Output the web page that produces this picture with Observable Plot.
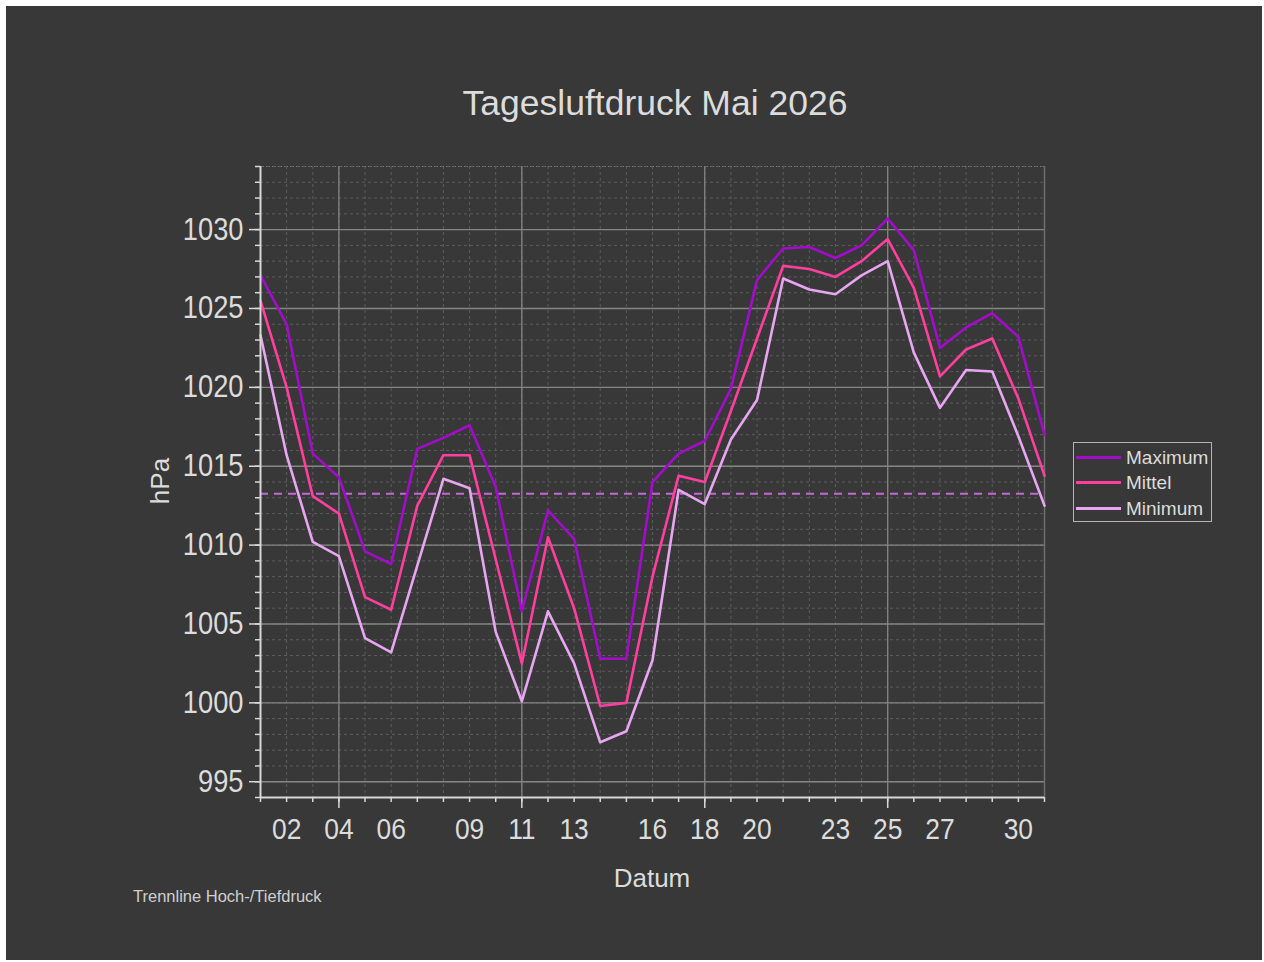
<!DOCTYPE html>
<html>
<head>
<meta charset="utf-8">
<script src="https://cdn.jsdelivr.net/npm/d3@7"></script>
<script src="https://cdn.jsdelivr.net/npm/@observablehq/plot@0.6"></script>
<style>
  html, body { margin: 0; padding: 0; background: #ffffff; width: 1264px; height: 962px; overflow: hidden; }
  body { position: relative; font-family: "Liberation Sans", Arial, sans-serif; }
  #frame { position: absolute; left: 6px; top: 6px; width: 1256px; height: 954px; background: #383838; }
  #chart { position: absolute; left: 6px; top: 6px; }
  .t { position: absolute; color: #dcdcdc; white-space: nowrap; line-height: 1; font-family: "Liberation Sans", Arial, sans-serif; }
  #legend { position: absolute; left: 1073px; top: 442px; width: 137px; height: 78px; border: 1.5px solid #b4b4b4; }
  .sw { position: absolute; height: 3px; width: 45px; left: 1076px; }
</style>
</head>
<body>
<div id="frame"></div>
<div id="chart"></div>
<div class="t" id="title" style="left:0;width:1310px;text-align:center;top:85.5px;font-size:35.5px;">Tagesluftdruck Mai 2026</div>
<div class="t" id="ylab" style="left:110px;width:100px;text-align:center;top:468px;font-size:26px;line-height:26px;transform:rotate(-90deg);">hPa</div>
<div class="t" id="xlab" style="left:552px;width:200px;text-align:center;top:865px;font-size:26px;">Datum</div>
<div class="t" id="caption" style="left:133px;top:887.8px;font-size:16.5px;color:#cfcfcf;">Trennline Hoch-/Tiefdruck</div>
<div id="legend"></div>
<div id="legendItems"></div>
<script>
// ---- data ----
const days = d3.range(1, 32);
const seriesNames = ["Maximum", "Mittel", "Minimum"];
const seriesColors = ["#a30ccb", "#ff3f9f", "#e8a6f2"];
const maxValues = [1027.1, 1024.0, 1015.8, 1014.3, 1009.6, 1008.8, 1016.1, 1016.8, 1017.6, 1013.7,
  1005.8, 1012.2, 1010.4, 1002.8, 1002.8, 1014.0, 1015.8, 1016.6, 1019.9, 1026.8,
  1028.8, 1028.9, 1028.2, 1029.0, 1030.7, 1028.7, 1022.5, 1023.8, 1024.7, 1023.2, 1017.0];
const meanValues = [1025.5, 1020.0, 1013.1, 1012.0, 1006.7, 1005.9, 1012.5, 1015.7, 1015.7, 1009.1,
  1002.5, 1010.5, 1006.0, 999.8, 1000.0, 1008.0, 1014.4, 1014.0, 1018.5, 1023.1,
  1027.7, 1027.5, 1027.0, 1028.0, 1029.4, 1026.3, 1020.7, 1022.4, 1023.1, 1019.3, 1014.4];
const minValues = [1023.3, 1015.7, 1010.2, 1009.3, 1004.1, 1003.2, 1008.7, 1014.2, 1013.6, 1004.5,
  1000.1, 1005.8, 1002.5, 997.5, 998.2, 1002.7, 1013.5, 1012.6, 1016.7, 1019.2,
  1026.9, 1026.2, 1025.9, 1027.1, 1028.0, 1022.2, 1018.7, 1021.1, 1021.0, 1016.9, 1012.5];
const threshold = 1013.25;
const yDomain = [994, 1034];
const xDomain = [1, 31];
const yTickLabels = [995, 1000, 1005, 1010, 1015, 1020, 1025, 1030];
const yMinorTicks = d3.range(994, 1035, 1);
const xTickLabels = [2, 4, 6, 9, 11, 13, 16, 18, 20, 23, 25, 27, 30];
const xMajorTicks = [4, 11, 18, 25];

const seriesValues = [maxValues, meanValues, minValues];
const rows = seriesNames.flatMap((name, i) =>
  days.map((d, j) => ({day: d, value: seriesValues[i][j], series: name})));

const axisColor = "#d8d8d8";
const chart = Plot.plot({
  width: 1256,
  height: 954,
  marginLeft: 254,
  marginRight: 218,
  marginTop: 160,
  marginBottom: 163,
  x: {domain: xDomain},
  y: {domain: yDomain},
  color: {domain: seriesNames, range: seriesColors},
  style: {background: "transparent", color: "#dcdcdc", fontFamily: "'Liberation Sans', Arial, sans-serif", overflow: "visible"},
  marks: [
    Plot.gridY(yMinorTicks, {stroke: "#5c5c5c", strokeOpacity: 1, strokeDasharray: "3,3"}),
    Plot.gridX(days, {stroke: "#5c5c5c", strokeOpacity: 1, strokeDasharray: "3,3"}),
    Plot.gridY(yTickLabels, {stroke: "#858585", strokeOpacity: 1, strokeWidth: 1.3}),
    Plot.gridX(xMajorTicks, {stroke: "#858585", strokeOpacity: 1, strokeWidth: 1.3}),
    Plot.ruleY([yDomain[1]], {stroke: "#7a7a7a", strokeDasharray: "1,2"}),
    Plot.ruleX([xDomain[1]], {stroke: "#6e6e6e", strokeWidth: 1.5}),
    Plot.ruleY([threshold], {stroke: "#c468d8", strokeWidth: 2, strokeDasharray: "8,6"}),
    Plot.line(rows, {x: "day", y: "value", z: "series", stroke: "series", strokeWidth: 2.6}),
    Plot.axisY(yMinorTicks, {tickSize: 5, tickFormat: () => "", stroke: axisColor, strokeWidth: 1.5, label: null}),
    Plot.axisY(yTickLabels, {tickSize: 11, tickFormat: () => "", stroke: axisColor, strokeWidth: 1.5, label: null}),
    Plot.axisY(yTickLabels, {tickSize: 0, tickPadding: 17, fontSize: 31, fill: "#dcdcdc", tickFormat: d => String(d), label: null}),
    Plot.axisX(days, {tickSize: 5, tickFormat: () => "", stroke: axisColor, strokeWidth: 1.5, label: null}),
    Plot.axisX(xMajorTicks, {tickSize: 11, tickFormat: () => "", stroke: axisColor, strokeWidth: 1.5, label: null}),
    Plot.axisX(xTickLabels, {tickSize: 0, tickPadding: 20, fontSize: 30, fill: "#dcdcdc", tickFormat: d3.format("02d"), label: null}),
    Plot.ruleX([xDomain[0]], {stroke: axisColor, strokeWidth: 2}),
    Plot.ruleY([yDomain[0]], {stroke: axisColor, strokeWidth: 2})
  ]
});
document.getElementById("chart").appendChild(chart);

// narrow the tick label glyphs a little, as in the original rendering
d3.select(chart).selectAll('g[aria-label$="tick label"] text').each(function() {
  const el = this;
  const tr = el.getAttribute("transform");
  if (tr) {
    el.setAttribute("transform", tr + " scale(0.88,1)");
  } else {
    const x = +el.getAttribute("x") || 0, y = +el.getAttribute("y") || 0;
    el.removeAttribute("x"); el.removeAttribute("y");
    el.setAttribute("transform", `translate(${x},${y}) scale(0.88,1)`);
  }
});

// legend
const legendRows = [457.3, 482.3, 508.3];
const li = document.getElementById("legendItems");
seriesNames.forEach((name, i) => {
  const sw = document.createElement("div");
  sw.className = "sw";
  sw.style.top = (legendRows[i] - 1.5) + "px";
  sw.style.background = seriesColors[i];
  li.appendChild(sw);
  const t = document.createElement("div");
  t.className = "t";
  t.style.left = "1126px";
  t.style.top = (legendRows[i] - 9.3) + "px";
  t.style.fontSize = "19px";
  t.textContent = name;
  li.appendChild(t);
});
</script>
</body>
</html>
